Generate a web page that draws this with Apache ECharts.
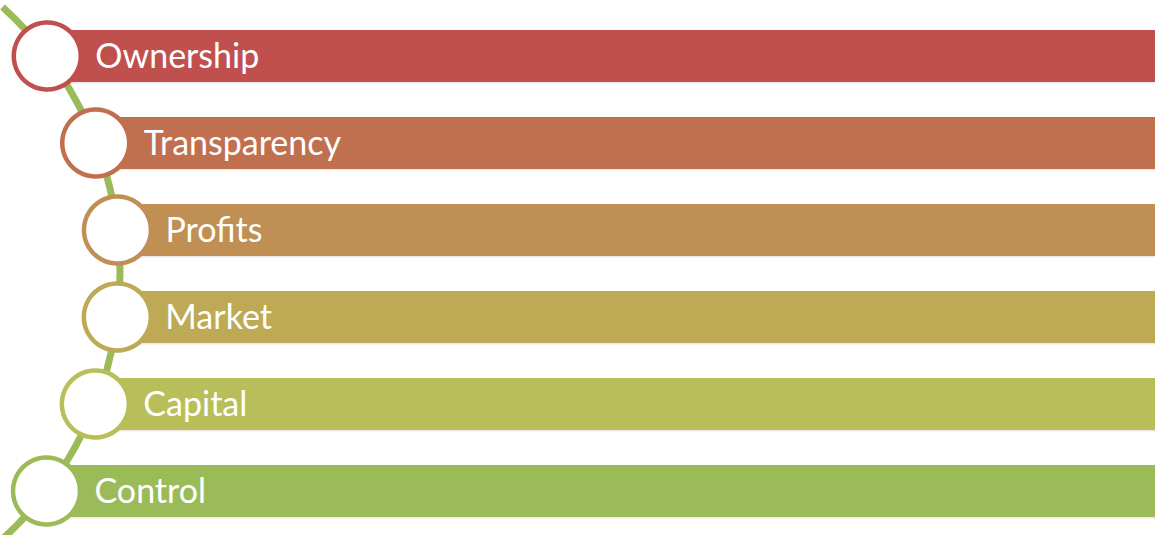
<!DOCTYPE html>
<html><head><meta charset="utf-8">
<script src="https://cdn.jsdelivr.net/npm/echarts@6/dist/echarts.min.js"></script>
<style>html,body{margin:0;padding:0;background:#fff}#c{width:1155px;height:535px;font-variant-ligatures:none}#c text{font-variant-ligatures:none}</style>
</head><body><div id="c"></div>
<script>
const categories = ['Ownership', 'Transparency', 'Profits', 'Market', 'Capital', 'Control'];
const barColors = ['#C0504D', '#C06F4F', '#C08F54', '#BEA955', '#B8BF5A', '#9BBB59'];
const barEnd = [1155, 1155, 1155, 1155, 1155, 1155];

// layout of the decorative arc (pixels)
const ARC = { cx: -240, cy: 273, r: 360 };
const BAR_H = 52, CIRCLE_R = 33.5;

const chart = echarts.init(document.getElementById('c'), null, { renderer: 'svg' });
chart.setOption({
  animation: false,
  grid: { left: 0, right: 0, top: 12.5, bottom: 0.5, containLabel: false },
  xAxis: { type: 'value', min: 0, max: 1155, show: false },
  yAxis: { type: 'category', data: categories, inverse: true, show: false },
  series: [
    {
      type: 'custom',
      silent: true,
      data: [0],
      z: 1,
      renderItem: function () {
        const a = Math.asin(266 / ARC.r);
        return {
          type: 'arc',
          shape: { cx: ARC.cx, cy: ARC.cy, r: ARC.r, startAngle: -a, endAngle: a, clockwise: true },
          style: { stroke: '#9BBB59', lineWidth: 7, fill: null }
        };
      }
    },
    {
      type: 'custom',
      silent: true,
      z: 2,
      data: categories.map((c, i) => [barEnd[i], c]),
      encode: { x: 0, y: 1 },
      renderItem: function (params, api) {
        const i = params.dataIndex;
        const pEnd = api.coord([api.value(0), api.value(1)]);
        const y = pEnd[1];
        const dy = y - ARC.cy;
        const cx = ARC.cx + Math.sqrt(ARC.r * ARC.r - dy * dy);
        const col = barColors[i];
        return {
          type: 'group',
          children: [
            { type: 'rect', shape: { x: cx, y: y - BAR_H / 2, width: pEnd[0] - cx, height: BAR_H },
              style: { fill: col } },
            { type: 'rect', shape: { x: cx, y: y + BAR_H / 2, width: pEnd[0] - cx, height: 1.5 },
              style: { fill: '#e8d8d8', opacity: 0.6 } },
            { type: 'circle', shape: { cx: cx, cy: y, r: CIRCLE_R },
              style: { fill: '#ffffff', stroke: col, lineWidth: 4.5 } },
            { type: 'text', x: cx + 48, y: y - 1.5,
              style: { text: categories[i], fill: '#ffffff', font: '34px Lato, "Open Sans", sans-serif',
                       verticalAlign: 'middle', align: 'left' } }
          ]
        };
      }
    }
  ]
});
</script></body></html>
